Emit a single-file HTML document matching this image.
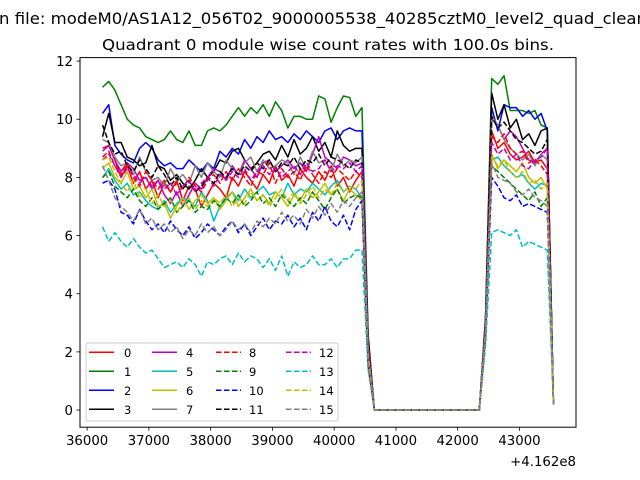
<!DOCTYPE html>
<html><head><meta charset="utf-8"><style>
html,body{margin:0;padding:0;background:#fff;}
svg{display:block;font-family:"DejaVu Sans","Liberation Sans",sans-serif;}
</style></head><body>
<svg id="chart" width="640" height="480" viewBox="0 0 640 480">
<rect width="640" height="480" fill="#fff"/>
<text x="-1" y="24" font-size="16" textLength="648" lengthAdjust="spacingAndGlyphs" fill="#000">n file: modeM0/AS1A12_056T02_9000005538_40285cztM0_level2_quad_clean</text>
<text x="328" y="50" font-size="15.5" text-anchor="middle" textLength="452" lengthAdjust="spacingAndGlyphs" fill="#000">Quadrant 0 module wise count rates with 100.0s bins.</text>
<g id="plot"></g>
</svg>
<script>
const binStart = 36250, binStep = 100;
const xTicks = [36000,37000,38000,39000,40000,41000,42000,43000];
const yTicks = [0,2,4,6,8,10,12];
const offsetLabel = "+4.162e8";
const seriesLabels = ["0","1","2","3","4","5","6","7","8","9","10","11","12","13","14","15"];
const colors = ["#ff0000","#008000","#0000ff","#000000","#bf00bf","#00bfbf","#bfbf00","#808080","#ff0000","#008000","#0000ff","#000000","#bf00bf","#00bfbf","#bfbf00","#808080"];
const seg1 = [
[9.0,9.1,8.6,8.0,8.4,7.8,8.2,7.6,7.9,7.3,7.8,7.5,7.9,7.2,7.7,7.6,7.0,7.4,7.8,7.6,7.3,8.0,7.7,8.2,7.9,7.6,8.1,7.8,8.4,7.9,8.1,7.7,8.3,8.0,7.8,8.2,7.9,8.4,7.7,8.0,7.5,7.9,8.2],
[11.1,11.3,11.0,10.5,10.0,9.8,9.7,9.4,9.3,9.2,9.3,9.6,9.3,9.2,9.6,9.1,9.1,9.6,9.7,9.6,9.8,10.1,10.4,10.1,10.4,10.2,10.5,10.1,10.6,10.3,9.7,10.1,10.1,10.0,10.0,10.8,10.7,9.9,10.4,10.8,10.75,10.1,10.4],
[10.2,10.5,9.1,8.8,8.6,8.5,9.0,9.2,9.0,8.6,8.4,8.5,8.3,8.3,8.6,8.4,8.2,8.5,8.3,8.9,8.7,9.0,8.8,9.3,9.0,9.4,9.2,9.6,9.3,9.4,9.2,9.5,9.3,9.6,9.4,9.2,9.6,9.7,9.3,9.6,9.7,9.6,9.6],
[9.4,10.2,9.2,9.2,8.7,8.6,8.4,8.5,9.1,8.4,8.3,7.9,8.1,7.8,7.6,7.9,8.3,8.0,8.2,8.6,8.5,8.9,9.0,8.6,8.3,8.5,8.8,8.9,8.6,9.1,8.7,9.3,8.8,9.0,9.4,8.9,9.2,8.7,9.6,9.1,8.9,9.0,9.0],
[8.9,9.1,8.6,8.2,8.5,8.3,7.9,8.0,7.6,7.9,7.4,7.1,7.5,7.0,7.4,7.8,7.6,8.0,8.3,8.2,7.9,8.4,8.1,8.6,8.3,8.0,8.5,8.6,8.2,8.4,8.6,8.3,8.5,8.2,8.8,9.4,8.7,8.5,8.3,8.7,8.6,8.4,8.5],
[8.0,8.3,7.9,7.6,7.8,7.4,7.5,7.2,7.0,6.9,7.2,6.8,7.1,7.3,7.2,7.0,7.5,7.2,6.5,7.0,7.3,7.5,7.2,7.6,7.3,7.5,7.7,7.4,7.5,7.3,7.8,7.4,7.6,7.5,7.8,7.6,7.4,7.7,7.9,7.5,7.7,7.6,7.3],
[8.3,8.5,8.0,7.8,8.2,7.6,7.7,7.3,7.6,7.0,7.1,6.6,7.0,7.3,6.9,7.2,7.4,7.1,7.3,6.9,7.2,7.5,7.0,7.3,7.6,7.2,7.4,7.1,7.5,7.3,7.0,7.4,7.2,7.6,7.3,7.5,7.8,7.4,7.6,7.2,7.6,7.4,7.2],
[9.3,9.2,8.7,8.4,8.5,8.1,8.7,8.2,7.9,8.0,7.7,8.3,7.9,8.1,7.8,8.4,8.0,8.5,8.2,8.0,8.6,8.3,8.1,8.5,8.7,8.2,8.6,8.3,8.4,8.6,8.5,8.1,8.7,8.3,8.9,8.5,8.6,8.2,8.8,8.4,8.6,8.5,8.7],
[8.7,8.9,8.4,8.1,8.5,8.0,7.7,8.2,7.9,7.6,7.9,7.5,7.8,7.6,8.0,7.7,7.5,7.9,8.1,7.8,8.2,7.9,8.3,8.0,7.7,8.2,8.1,8.5,7.8,8.3,8.0,8.2,7.9,8.4,8.1,7.8,8.2,8.0,8.3,8.1,7.9,8.2,8.0],
[8.0,8.2,7.7,7.5,7.3,7.6,7.2,7.0,7.3,6.9,7.1,7.3,6.8,7.0,7.2,6.8,7.0,6.9,7.2,7.0,7.3,7.1,7.4,7.0,7.2,7.5,7.1,7.3,7.0,7.4,7.2,7.0,7.3,7.1,7.5,7.2,6.9,7.3,7.6,7.1,7.3,7.4,7.3],
[7.8,7.9,7.6,6.8,6.7,6.4,6.9,6.5,6.2,6.4,6.1,6.5,6.2,6.0,6.3,5.9,6.1,6.4,6.2,6.0,6.3,6.5,6.1,6.4,6.0,6.3,6.6,6.2,6.5,6.4,6.7,6.3,6.6,6.2,6.8,6.5,7.0,6.5,6.3,6.7,6.2,6.9,7.2],
[9.8,9.2,8.8,8.9,8.4,8.2,8.6,8.3,8.0,8.4,8.1,7.7,8.0,7.6,7.9,7.5,7.7,8.0,7.8,8.2,8.0,8.3,8.1,8.4,8.2,8.5,8.3,8.6,8.2,8.5,8.4,8.7,8.3,8.6,8.5,8.8,8.4,8.7,8.6,8.5,8.3,8.6,8.5],
[8.6,8.8,8.4,8.0,8.3,8.1,7.8,8.0,7.7,7.9,7.6,7.8,7.4,7.7,7.9,7.5,7.8,8.0,7.7,8.1,7.9,8.2,8.0,8.3,7.9,8.2,8.4,8.1,8.3,8.0,8.2,8.4,8.1,8.5,8.2,8.3,8.6,8.2,8.4,8.3,8.5,8.2,8.4],
[6.3,5.8,6.1,5.8,5.6,5.9,5.6,5.4,5.5,5.2,4.9,5.0,5.1,4.9,5.2,5.0,4.6,5.1,5.0,5.2,5.3,5.0,5.4,5.1,5.3,5.2,4.9,5.2,4.8,5.3,4.6,5.1,4.9,5.0,5.3,5.0,5.0,5.2,4.9,5.2,5.2,5.5,5.5],
[8.6,8.7,8.2,7.8,7.5,7.9,7.3,7.6,7.1,7.4,7.0,7.2,6.8,7.1,7.3,6.9,7.2,7.0,7.3,7.1,7.4,7.0,7.3,7.1,7.5,7.2,7.4,7.0,7.3,7.6,7.2,7.5,7.1,7.4,7.7,7.3,7.6,7.4,7.8,7.5,7.7,7.6,7.9],
[8.4,7.9,7.3,7.0,6.8,6.5,6.9,6.4,6.6,6.2,6.4,6.1,6.3,5.9,6.2,6.0,6.4,6.1,6.3,6.0,6.2,6.5,6.2,6.4,6.1,6.5,6.3,6.6,6.4,6.8,6.5,6.7,6.4,6.9,6.6,7.0,6.7,7.1,6.8,7.2,7.0,7.3,7.5]
];
const dropVals = [2.0,2.6,2.4,2.5,2.2,1.8,1.9,2.3,2.1,1.7,1.5,2.4,2.2,1.4,1.9,1.6];
const gapZeros = [0,0,0,0,0,0,0,0,0,0,0,0,0,0,0,0,0,0];
const riseVals = [2.8,3.2,3.0,3.1,2.9,2.6,2.7,3.0,2.9,2.6,2.5,3.0,2.8,2.2,2.7,2.6];
const seg2 = [
[9.6,9.0,9.2,8.8,8.6,8.7,8.9,8.5,8.6,8.3],
[11.4,11.2,11.5,10.3,10.3,10.3,10.2,10.3,9.8,9.7],
[10.4,9.6,10.5,10.4,10.4,10.1,10.3,10.0,10.2,9.6],
[10.9,10.0,10.5,9.7,10.0,9.3,9.5,9.1,9.6,9.7],
[10.0,9.8,9.3,9.6,9.4,9.0,8.6,8.5,8.8,9.0],
[8.6,8.7,8.4,8.2,8.0,8.1,7.8,7.6,7.8,7.7],
[8.8,8.3,8.6,8.4,8.2,8.5,8.0,7.8,8.0,7.6],
[10.1,9.8,9.3,9.0,8.8,8.6,8.8,8.4,8.8,8.6],
[9.4,9.2,9.5,9.0,8.8,8.9,8.5,8.6,8.4,8.1],
[8.4,8.2,8.0,7.8,7.6,7.4,7.2,7.5,7.0,7.3],
[8.0,7.7,7.3,7.2,7.4,7.0,7.1,7.0,6.9,6.8],
[10.1,9.7,9.9,9.6,9.3,9.2,9.0,8.8,8.9,9.3],
[9.2,8.8,9.0,8.6,8.8,8.4,8.3,8.6,8.7,9.0],
[6.1,6.2,6.1,6.0,6.2,5.6,5.8,5.7,5.6,5.5],
[8.7,8.4,8.6,8.2,8.0,8.2,7.8,7.9,7.6,7.8],
[8.5,8.0,7.9,7.8,7.5,7.4,7.6,7.3,7.2,7.0]
];
const endVals = [0.2,0.25,0.2,0.2,0.2,0.2,0.2,0.2,0.2,0.2,0.2,0.2,0.2,0.2,0.2,0.2];

const NS = "http://www.w3.org/2000/svg";
const L = 80, R = 576, T = 57.6, B = 427.2;
const xMin = 35885, xMax = 43915, yMin = -0.59, yMax = 12.12;
function xs(v){ return L + (v - xMin) / (xMax - xMin) * (R - L); }
function ys(v){ return B - (v - yMin) / (yMax - yMin) * (B - T); }
function mk(tag, attrs, parent){ const e = document.createElementNS(NS, tag); for (const k in attrs) e.setAttribute(k, attrs[k]); parent.appendChild(e); return e; }
const g = document.getElementById("plot");

for (let s = 0; s < 16; s++) {
  const vals = seg1[s].concat([dropVals[s]], gapZeros, [riseVals[s]], seg2[s], [endVals[s]]);
  const pts = vals.map((v, i) => xs(binStart + binStep * i).toFixed(2) + "," + ys(v).toFixed(2)).join(" ");
  const pl = mk("polyline", {points: pts, fill: "none", stroke: colors[s], "stroke-width": 1.5, "stroke-linejoin": "round"}, g);
  if (s >= 8) pl.setAttribute("stroke-dasharray", "5.55,2.4");
  
  
}

const frame = mk("rect", {x: L, y: T, width: R - L, height: B - T, fill: "none", stroke: "#000", "stroke-width": 1}, g);



xTicks.forEach(v => {
  const x = xs(v);
  const tk = mk("line", {x1: x, x2: x, y1: B, y2: B + 3.5, stroke: "#000", "stroke-width": 0.8}, g);
  
  
  const t = mk("text", {x: x, y: B + 18, "font-size": 13.3, "text-anchor": "middle"}, g);
  t.textContent = String(v);
  
  
});
const off = mk("text", {x: 576, y: 466, "font-size": 13.3, "text-anchor": "end"}, g);
off.textContent = offsetLabel;



yTicks.forEach(v => {
  const y = ys(v);
  const tk = mk("line", {x1: L - 3.5, x2: L, y1: y, y2: y, stroke: "#000", "stroke-width": 0.8}, g);
  
  
  const t = mk("text", {x: L - 7, y: y + 5, "font-size": 13.3, "text-anchor": "end"}, g);
  t.textContent = String(v);
  
  
});

const lg = mk("g", {}, g);


mk("rect", {x: 86, y: 343, width: 252, height: 78, rx: 2, fill: "#fff", "fill-opacity": 0.8, stroke: "#ccc", "stroke-width": 1}, lg);
const colLineX = [89, 152, 216, 286];
const colTextX = [124, 186, 249, 319];
const rowY = [352.3, 371.3, 390.3, 409.3];
for (let s = 0; s < 16; s++) {
  const c = Math.floor(s / 4), r = s % 4;
  const e = mk("g", {}, lg);
  
  
  const ln = mk("line", {x1: colLineX[c], x2: colLineX[c] + 25, y1: rowY[r], y2: rowY[r], stroke: colors[s], "stroke-width": 1.5}, e);
  if (s >= 8) ln.setAttribute("stroke-dasharray", "5.55,2.4");
  const t = mk("text", {x: colTextX[c], y: rowY[r] + 4.5, "font-size": 11.5}, e);
  t.textContent = seriesLabels[s];
}
</script>
</body></html>
